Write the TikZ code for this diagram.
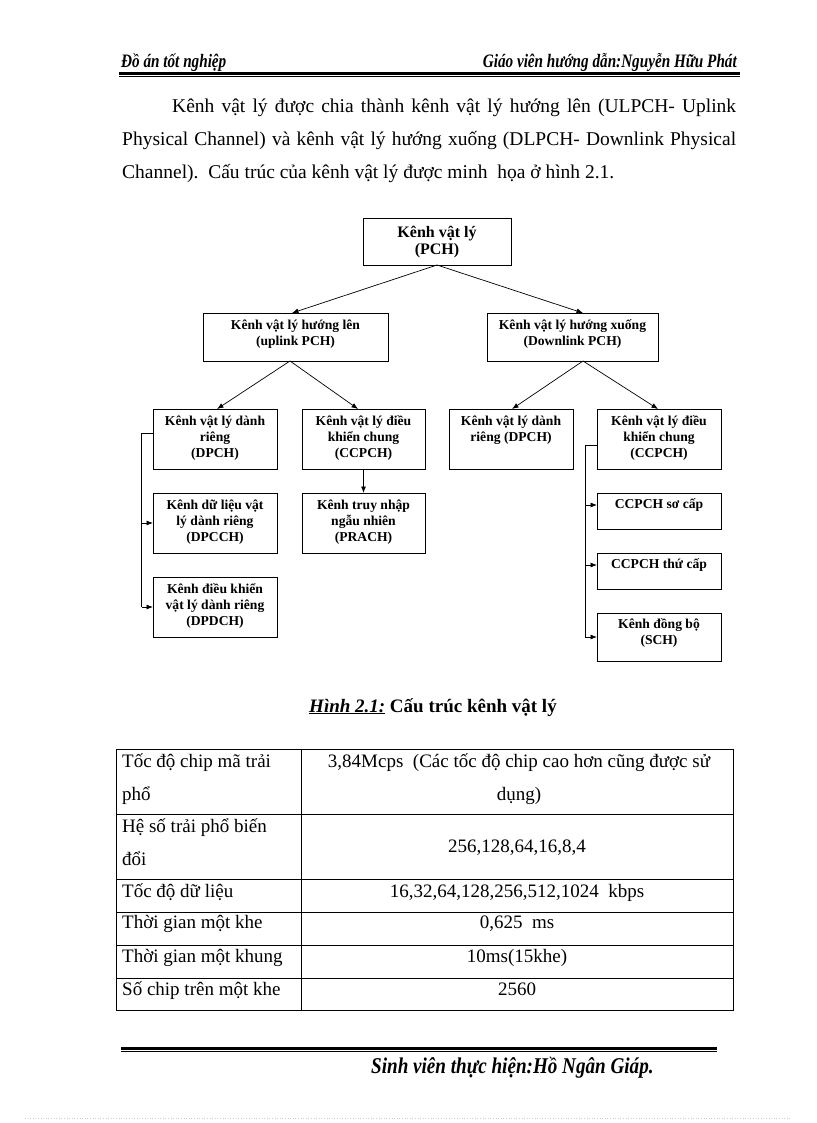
\documentclass[tikz,border=0pt]{standalone}
\usepackage{fontspec}
\setmainfont{Liberation Serif}
\newfontfamily\hdrfont[FakeStretch=0.8]{Liberation Serif}
\newfontfamily\ftrfont[FakeStretch=0.85]{Liberation Serif}
\usetikzlibrary{arrows.meta}
\begin{document}
\begin{tikzpicture}[x=1pt,y=-1pt,
  box/.style={draw, line width=0.8pt, inner sep=0pt, outer sep=0pt},
  lbl/.style={font=\fontsize{13.6}{16}\selectfont\bfseries, align=center, inner sep=0pt, anchor=north},
  bigl/.style={font=\fontsize{16}{17.5}\selectfont\bfseries, align=center, inner sep=0pt, anchor=north},
  arr/.style={-{Latex[length=6.5pt,width=5pt]}, line width=0.7pt},
  conn/.style={line width=0.7pt},
  body/.style={font=\fontsize{19.5}{22}\selectfont, inner sep=0pt, anchor=base west},
  hdr/.style={font=\fontsize{19}{22}\selectfont\hdrfont\bfseries\itshape, inner sep=0pt},
  ftr/.style={font=\fontsize{22.5}{25}\selectfont\ftrfont\bfseries\itshape, inner sep=0pt},
  tcell/.style={font=\fontsize{19}{22}\selectfont, inner sep=0pt, anchor=base west},
  tval/.style={font=\fontsize{19}{22}\selectfont, inner sep=0pt, anchor=base},
  tline/.style={line width=0.8pt}]
\useasboundingbox[fill=white] (0,0) rectangle (816,1123);

% header
\node[hdr, anchor=base west] (hl) at (121,68) {Đồ án tốt nghiệp};
\node[hdr, anchor=base east] (hr) at (737,68) {Giáo viên hướng dẫn:Nguyễn Hữu Phát};
\draw[line width=2.6pt] (119,73.5) -- (740,73.5);
\draw[line width=0.7pt] (119,76.8) -- (740,76.8);

% paragraph
\node[body] (p1) at (172,113) {\makebox[564pt][s]{Kênh vật lý được chia thành kênh vật lý hướng lên (ULPCH- Uplink}};
\node[body] (p2) at (122,146) {\makebox[614pt][s]{Physical Channel) và kênh vật lý hướng xuống (DLPCH- Downlink Physical}};
\node[body] (p3) at (122,179) {Channel).\ \ Cấu trúc của kênh vật lý được minh\ \ họa ở hình 2.1.};

% boxes
\node[box, minimum width=148pt, minimum height=47pt] (pch) at (437,241.5) {};
\node[box, minimum width=185pt, minimum height=48pt] (up) at (295.5,337) {};
\node[box, minimum width=171pt, minimum height=48pt] (down) at (572.5,337) {};
\node[box, minimum width=124pt, minimum height=60pt] (dpch) at (215,439) {};
\node[box, minimum width=123pt, minimum height=60pt] (ccl) at (363.5,439) {};
\node[box, minimum width=124pt, minimum height=60pt] (dpcch) at (215,523) {};
\node[box, minimum width=123pt, minimum height=60pt] (prach) at (363.5,523) {};
\node[box, minimum width=124pt, minimum height=60pt] (dpdch) at (215,607) {};
\node[box, minimum width=124pt, minimum height=60pt] (dpchr) at (511,439) {};
\node[box, minimum width=124pt, minimum height=60pt] (ccr) at (659,439) {};
\node[box, minimum width=124pt, minimum height=36pt] (sc) at (659,511) {};
\node[box, minimum width=124pt, minimum height=36pt] (tc) at (659,571) {};
\node[box, minimum width=124pt, minimum height=48pt] (sch) at (659,637) {};

% box texts
\node[bigl] (pcht) at ([yshift=-7pt]pch.north) {\strut Kênh vật lý\\(PCH)};
\node[lbl] (upt) at ([yshift=-5pt]up.north) {\strut Kênh vật lý hướng lên\\(uplink PCH)};
\node[lbl] (downt) at ([yshift=-5pt]down.north) {\strut Kênh vật lý hướng xuống\\(Downlink PCH)};
\node[lbl] (dpcht) at ([yshift=-5pt]dpch.north) {\strut Kênh vật lý dành\\riêng\\(DPCH)};
\node[lbl] (cclt) at ([yshift=-5pt]ccl.north) {\strut Kênh vật lý điều\\khiển chung\\(CCPCH)};
\node[lbl] (dpccht) at ([yshift=-5pt]dpcch.north) {\strut Kênh dữ liệu vật\\lý dành riêng\\(DPCCH)};
\node[lbl] (pracht) at ([yshift=-5pt]prach.north) {\strut Kênh truy nhập\\ngẫu nhiên\\(PRACH)};
\node[lbl] (dpdcht) at ([yshift=-5pt]dpdch.north) {\strut Kênh điều khiển\\vật lý dành riêng\\(DPDCH)};
\node[lbl] (dpchrt) at ([yshift=-5pt]dpchr.north) {\strut Kênh vật lý dành\\riêng (DPCH)};
\node[lbl] (ccrt) at ([yshift=-5pt]ccr.north) {\strut Kênh vật lý điều\\khiển chung\\(CCPCH)};
\node[lbl] (sct) at ([yshift=-4pt]sc.north) {\strut CCPCH sơ cấp};
\node[lbl] (tct) at ([yshift=-4pt]tc.north) {\strut CCPCH thứ cấp};
\node[lbl] (scht) at ([yshift=-4pt]sch.north) {\strut Kênh đồng bộ\\(SCH)};

% connectors
\draw[arr] (pch.south) -- ([xshift=-3.5pt]up.north);
\draw[arr] (pch.south) -- ([xshift=10.5pt]down.north);
\draw[arr] ([xshift=-5.5pt]up.south) -- ([xshift=2pt]dpch.north);
\draw[arr] ([xshift=-5.5pt]up.south) -- ([xshift=-5.5pt]ccl.north);
\draw[arr] ([xshift=10.5pt]down.south) -- ([xshift=1pt]dpchr.north);
\draw[arr] ([xshift=10.5pt]down.south) -- ([xshift=-1pt]ccr.north);
\draw[arr] (ccl.south) -- (prach.north);

\coordinate (lbus) at (141.5,0);
\draw[conn] ([yshift=6pt]dpch.west) -| (lbus |- dpdch.west);
\draw[arr] (lbus |- dpcch.west) -- (dpcch.west);
\draw[arr] (lbus |- dpdch.west) -- (dpdch.west);

\coordinate (rbus) at (585,0);
\draw[conn] ([yshift=-6pt]ccr.west) -| (rbus |- sch.west);
\draw[arr] ([yshift=6pt]rbus |- sc.west) -- ([yshift=6pt]sc.west);
\draw[arr] ([yshift=6pt]rbus |- tc.west) -- ([yshift=6pt]tc.west);
\draw[arr] (rbus |- sch.west) -- (sch.west);

% caption
\node[font=\fontsize{19}{22}\selectfont\bfseries, inner sep=0pt, anchor=base] (cap) at (433,712) {\underline{\textit{Hình 2.1:}} Cấu trúc kênh vật lý};

% table
\draw[tline] (116,749) rectangle (733,1010);
\draw[tline] (301,749) -- (301,1010);
\foreach \yy in {814,879,912,945,978} \draw[tline] (116,\yy) -- (733,\yy);

\node[tcell] (a1) at (122,767) {Tốc độ chip mã trải};
\node[tcell] (a1b) at (122,800) {phổ};
\node[tcell] (a2) at (122,832) {Hệ số trải phổ biến};
\node[tcell] (a2b) at (122,865) {đổi};
\node[tcell] (a3) at (122,897) {Tốc độ dữ liệu};
\node[tcell] (a4) at (122,928) {Thời gian một khe};
\node[tcell] (a5) at (122,962) {Thời gian một khung};
\node[tcell] (a6) at (122,995) {Số chip trên một khe};

\node[tval] (b1) at (519,767) {3,84Mcps\ \ (Các tốc độ chip cao hơn cũng được sử};
\node[tval] (b1b) at (519,800) {dụng)};
\node[tval] (b2) at (517,852) {256,128,64,16,8,4};
\node[tval] (b3) at (517,897) {16,32,64,128,256,512,1024\ \ kbps};
\node[tval] (b4) at (517,928) {0,625\ \ ms};
\node[tval] (b5) at (517,962) {10ms(15khe)};
\node[tval] (b6) at (517,995) {2560};

% footer
\draw[line width=3pt] (121,1048) -- (717,1048);
\draw[line width=0.7pt] (121,1051.8) -- (717,1051.8);
\node[ftr, anchor=base west] (ft) at (371,1073) {Sinh viên thực hiện:Hồ Ngân Giáp.};
\draw[gray!40, dotted, line width=0.6pt] (25,1118) -- (790,1118);
\end{tikzpicture}
\end{document}
